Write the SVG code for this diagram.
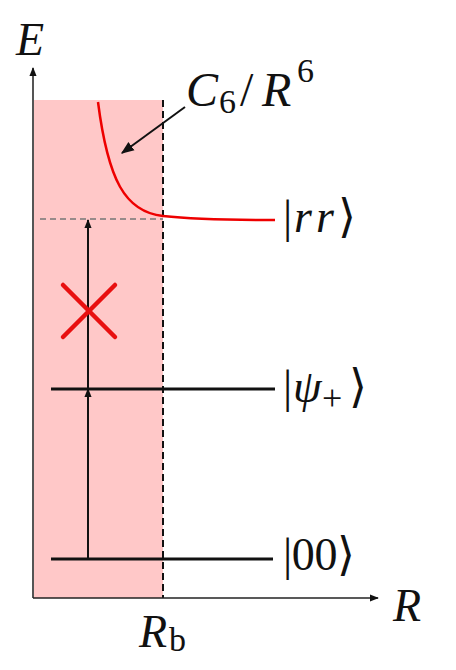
<svg xmlns="http://www.w3.org/2000/svg" width="456" height="670" viewBox="0 0 456 670">
<style>
text{font-family:"Liberation Serif","DejaVu Serif",serif;fill:#111;}
.it{font-style:italic;}
.lvl{stroke:#111;stroke-width:3;fill:none;}
</style>
<defs>
<marker id="ah" viewBox="0 0 10 10" refX="9" refY="5" markerWidth="9" markerHeight="9" markerUnits="userSpaceOnUse" orient="auto"><path d="M0,1 L10,5 L0,9 Z" fill="#111"/></marker>
<marker id="ah2" viewBox="0 0 10 10" refX="9" refY="5" markerWidth="13" markerHeight="13" markerUnits="userSpaceOnUse" orient="auto"><path d="M0,1 L10,5 L0,9 Z" fill="#111"/></marker>
</defs>
<rect width="456" height="670" fill="#fff"/>
<g id="blockade">
<rect x="33" y="100" width="130" height="498" fill="#ffc8c8"/>
<line x1="163" y1="100" x2="163" y2="598" stroke="#111" stroke-width="2" stroke-dasharray="7,4"/>
</g>
<g id="axes">
<line x1="33" y1="598" x2="33" y2="68" stroke="#555" stroke-width="2" marker-end="url(#ah)"/>
<line x1="33" y1="598" x2="378" y2="598" stroke="#222" stroke-width="1.5" marker-end="url(#ah)"/>
<text class="it" x="16" y="55" font-size="46">E</text>
<text class="it" x="393" y="621" font-size="46">R</text>
<text x="139" y="647" font-size="46"><tspan class="it">R</tspan><tspan font-size="34" x="169" dy="4">b</tspan></text>
</g>
<g id="rr">
<line x1="40" y1="219" x2="163" y2="219" stroke="#777" stroke-width="1.5" stroke-dasharray="6,4"/>
<path d="M98,102 C108,180 125,212 163,216 C190,219 230,220 275,220" fill="none" stroke="#e00" stroke-width="2.5"/>
<text x="283" y="232" font-size="46">|<tspan class="it" x="294">r</tspan><tspan class="it" x="316">r</tspan><tspan x="338">⟩</tspan></text>
</g>
<g id="psi">
<line class="lvl" x1="51" y1="389" x2="275" y2="389"/>
<text x="283" y="402" font-size="46">|<tspan class="it" x="293">ψ</tspan><tspan font-size="36" x="322" dy="8">+</tspan><tspan x="349" dy="-8">⟩</tspan></text>
</g>
<g id="ground">
<line class="lvl" x1="51" y1="559" x2="273" y2="559"/>
<text x="283" y="570" font-size="46" textLength="72">|00⟩</text>
</g>
<g id="label">
<text x="186" y="106" font-size="48"><tspan class="it">C</tspan><tspan font-size="34" x="219" dy="7">6</tspan><tspan x="240" dy="-7">/</tspan><tspan class="it" x="262">R</tspan><tspan font-size="34" x="297" dy="-24">6</tspan></text>
</g>
<g id="connectors">
<line x1="185" y1="107" x2="122" y2="153" stroke="#111" stroke-width="2" marker-end="url(#ah2)"/>
<line x1="88" y1="559" x2="88" y2="389" stroke="#111" stroke-width="2" marker-end="url(#ah)"/>
<line x1="88" y1="389" x2="88" y2="220" stroke="#111" stroke-width="2" marker-end="url(#ah)"/>
</g>
<g id="cross">
<line x1="63" y1="285" x2="115" y2="337" stroke="#e81010" stroke-width="4.5" stroke-linecap="round"/>
<line x1="115" y1="285" x2="63" y2="337" stroke="#e81010" stroke-width="4.5" stroke-linecap="round"/>
</g>
</svg>
